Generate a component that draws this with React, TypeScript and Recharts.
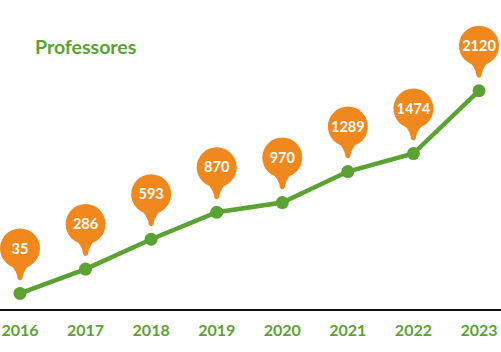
import { LineChart, Line, XAxis, YAxis, LabelList } from "recharts";

const years = ["2016", "2017", "2018", "2019", "2020", "2021", "2022", "2023"];
const professores = [35, 286, 593, 870, 970, 1289, 1474, 2120];

const data = years.map((year, i) => ({ year, professores: professores[i] }));

const GREEN = "#5aa332";
const ORANGE = "#f0881d";

// callout pin + the point marker, drawn from the label layer
const Pin = (props: any) => {
  const { x, y, value } = props;
  const cy = y - 45;
  return (
    <g>
      <circle cx={x} cy={y} r={6.5} fill={GREEN} />
      <circle cx={x} cy={cy} r={20} fill={ORANGE} />
      <path
        d={`M ${x - 8} ${cy + 17.5} Q ${x - 2.5} ${y - 20} ${x - 2.5} ${y - 15} Q ${x} ${y - 11} ${x + 2.5} ${y - 15} Q ${x + 2.5} ${y - 20} ${x + 8} ${cy + 17.5} Z`}
        fill={ORANGE}
      />
      <text
        x={x}
        y={cy}
        dy="0.36em"
        textAnchor="middle"
        fill="#fff"
        fontFamily="Lato, sans-serif"
        fontWeight={700}
        fontSize={14.5}
      >
        {value}
      </text>
    </g>
  );
};

const YearTick = (props: any) => {
  const { x, y, payload } = props;
  return (
    <text
      x={x}
      y={y + 18}
      textAnchor="middle"
      fill={GREEN}
      fontFamily="Lato, sans-serif"
      fontWeight={700}
      fontSize={16}
    >
      {payload.value}
    </text>
  );
};

export default function App() {
  return (
    <div style={{ position: "absolute", left: 0, top: 0, width: 501, height: 352, background: "#fff" }}>
      <div
        style={{
          position: "absolute",
          left: 35,
          top: 36,
          color: GREEN,
          fontFamily: "Lato, sans-serif",
          fontWeight: 700,
          fontSize: 19.5,
          lineHeight: "22px",
        }}
      >
        Professores
      </div>
      <LineChart width={501} height={352} data={data} margin={{ top: 0, right: 0, left: 0, bottom: 0 }}>
        <XAxis
          dataKey="year"
          padding={{ left: 20, right: 22 }}
          height={42}
          axisLine={{ stroke: "#111", strokeWidth: 2 }}
          tickLine={false}
          tick={<YearTick />}
          interval={0}
        />
        <YAxis hide domain={[-135, 3053]} />
        <Line
          dataKey="professores"
          stroke={GREEN}
          strokeWidth={4.5}
          dot={false}
          activeDot={false}
          isAnimationActive={false}
        >
          <LabelList dataKey="professores" content={<Pin />} />
        </Line>
      </LineChart>
    </div>
  );
}
